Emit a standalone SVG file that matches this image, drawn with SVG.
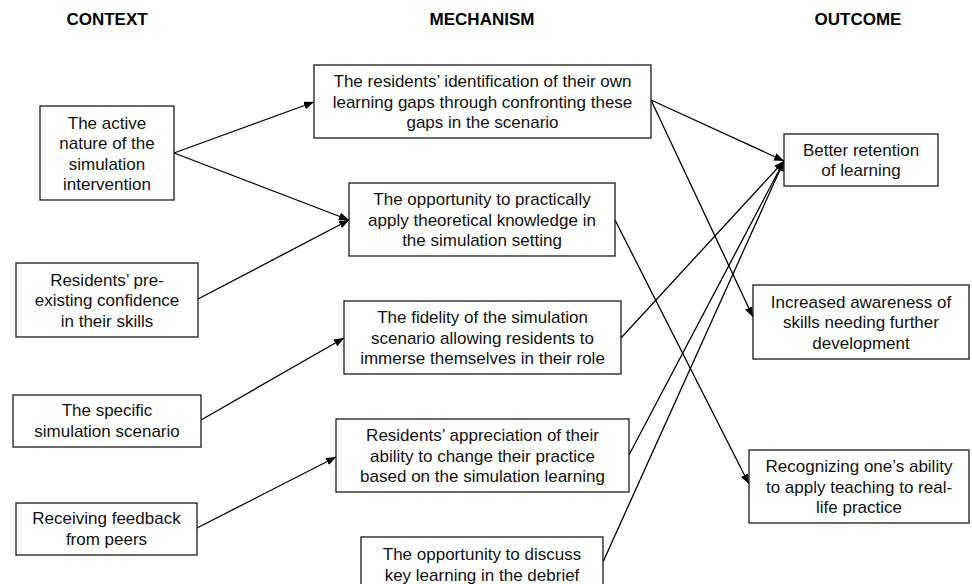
<svg xmlns="http://www.w3.org/2000/svg" width="972" height="584" viewBox="0 0 972 584">
<style>
.box{fill:#fff;stroke:#1a1a1a;stroke-width:1.3}
.t{font-family:"Liberation Sans",Arial,sans-serif;font-size:17px;fill:#111;text-anchor:middle}
.h{font-family:"Liberation Sans",Arial,sans-serif;font-size:17px;font-weight:bold;fill:#000;text-anchor:middle}
.c{stroke:#000;stroke-width:1.3;fill:none;marker-end:url(#arr)}
</style>
<defs>
<marker id="arr" markerUnits="userSpaceOnUse" markerWidth="12" markerHeight="10" refX="10" refY="4" orient="auto">
<path d="M0,0 L10,4 L0,8 Z" fill="#000"/>
</marker>
</defs>
<rect width="972" height="584" fill="#fff"/>
<g id="headers">
<text class="h" x="107" y="25">CONTEXT</text>
<text class="h" x="482" y="25">MECHANISM</text>
<text class="h" x="858" y="25">OUTCOME</text>
</g>
<g id="connectors">
<line class="c" x1="174" y1="153" x2="314" y2="102"/>
<line class="c" x1="174" y1="153" x2="349" y2="220"/>
<line class="c" x1="198" y1="299" x2="349" y2="220"/>
<line class="c" x1="201" y1="420" x2="344" y2="338"/>
<line class="c" x1="197" y1="528" x2="336" y2="457"/>
<line class="c" x1="651" y1="100" x2="784" y2="161"/>
<line class="c" x1="651" y1="100" x2="753" y2="317"/>
<line class="c" x1="615" y1="220" x2="749" y2="484"/>
<line class="c" x1="621" y1="338" x2="784" y2="161"/>
<line class="c" x1="629" y1="455" x2="784" y2="161"/>
<line class="c" x1="603" y1="562" x2="784" y2="161"/>
</g>
<g id="c1">
<rect class="box" x="40" y="106" width="134" height="94"/>
<text class="t" x="107" y="128.5">The active</text>
<text class="t" x="107" y="149">nature of the</text>
<text class="t" x="107" y="169.5">simulation</text>
<text class="t" x="107" y="190">intervention</text>
</g>
<g id="c2">
<rect class="box" x="16" y="263" width="182" height="74"/>
<text class="t" x="107" y="285.5">Residents’ pre-</text>
<text class="t" x="107" y="306">existing confidence</text>
<text class="t" x="107" y="326.5">in their skills</text>
</g>
<g id="c3">
<rect class="box" x="13" y="395" width="188" height="52"/>
<text class="t" x="107" y="416">The specific</text>
<text class="t" x="107" y="436.5">simulation scenario</text>
</g>
<g id="c4">
<rect class="box" x="16" y="503" width="181" height="52"/>
<text class="t" x="106.5" y="524">Receiving feedback</text>
<text class="t" x="106.5" y="544.5">from peers</text>
</g>
<g id="m1">
<rect class="box" x="314" y="65" width="337" height="73"/>
<text class="t" x="482.5" y="87">The residents’ identification of their own</text>
<text class="t" x="482.5" y="107.5">learning gaps through confronting these</text>
<text class="t" x="482.5" y="128">gaps in the scenario</text>
</g>
<g id="m2">
<rect class="box" x="349" y="183" width="266" height="73"/>
<text class="t" x="482" y="205">The opportunity to practically</text>
<text class="t" x="482" y="225.5">apply theoretical knowledge in</text>
<text class="t" x="482" y="246">the simulation setting</text>
</g>
<g id="m3">
<rect class="box" x="344" y="301" width="277" height="73"/>
<text class="t" x="482.5" y="323">The fidelity of the simulation</text>
<text class="t" x="482.5" y="343.5">scenario allowing residents to</text>
<text class="t" x="482.5" y="364">immerse themselves in their role</text>
</g>
<g id="m4">
<rect class="box" x="336" y="419" width="293" height="73"/>
<text class="t" x="482.5" y="441">Residents’ appreciation of their</text>
<text class="t" x="482.5" y="461.5">ability to change their practice</text>
<text class="t" x="482.5" y="482">based on the simulation learning</text>
</g>
<g id="m5">
<rect class="box" x="361" y="537" width="242" height="60"/>
<text class="t" x="482" y="560">The opportunity to discuss</text>
<text class="t" x="482" y="580.5">key learning in the debrief</text>
</g>
<g id="o1">
<rect class="box" x="784" y="134" width="154" height="52"/>
<text class="t" x="861" y="155.5">Better retention</text>
<text class="t" x="861" y="176">of learning</text>
</g>
<g id="o2">
<rect class="box" x="753" y="285" width="216" height="74"/>
<text class="t" x="861" y="307.5">Increased awareness of</text>
<text class="t" x="861" y="328">skills needing further</text>
<text class="t" x="861" y="348.5">development</text>
</g>
<g id="o3">
<rect class="box" x="749" y="450" width="220" height="73"/>
<text class="t" x="859" y="472">Recognizing one’s ability</text>
<text class="t" x="859" y="492.5">to apply teaching to real-</text>
<text class="t" x="859" y="513">life practice</text>
</g>
</svg>
